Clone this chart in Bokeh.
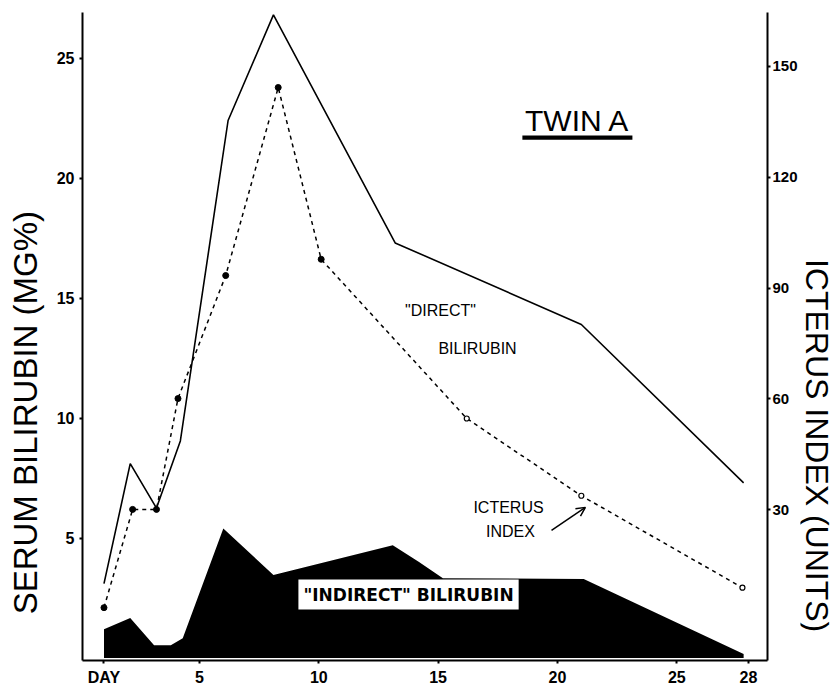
import math
from bokeh.plotting import figure
from bokeh.layouts import row
from bokeh.models import Range1d, LinearAxis, FixedTicker, Label, Arrow, OpenHead, BoxAnnotation
from bokeh.embed import file_html
from bokeh.resources import INLINE

# ---- data ----
days_direct = [1, 2.1, 3.2, 4.2, 6.2, 8.1, 13.2, 21.0, 27.8]
direct_bilirubin = [3.1, 8.1, 6.25, 9.05, 22.4, 26.8, 17.3, 13.9, 7.3]

days_indirect = [1, 2.1, 3.1, 3.8, 4.3, 6.0, 8.1, 13.1, 14.2, 15.2, 21.1, 27.8]
indirect_bilirubin = [1.2, 1.67, 0.54, 0.54, 0.83, 5.4, 3.46, 4.7, 4.0, 3.33, 3.3, 0.17]

days_icterus = [1, 2.2, 3.2, 4.1, 6.1, 8.3, 10.1, 16.2, 21.0, 27.75]
icterus_index = [3.5, 30.1, 30.1, 60.1, 93.4, 144.3, 97.8, 54.7, 33.8, 8.9]

x_ticks = [1, 5, 10, 15, 20, 25, 28]
x_tick_labels = ["DAY", "5", "10", "15", "20", "25", "28"]
left_ticks = [5, 10, 15, 20, 25]
right_ticks = [30, 60, 90, 120, 150]

H = 684

p = figure(frame_width=685, frame_height=648,
           x_range=Range1d(0.1, 28.8), y_range=Range1d(-0.1, 26.9),
           output_backend="svg", toolbar_location=None,
           min_border_left=37, min_border_right=30, min_border_top=12, min_border_bottom=24)
p.outline_line_color = None
p.xgrid.visible = False
p.ygrid.visible = False

p.extra_y_ranges = {"ict": Range1d(-10.8, 164.6)}
p.add_layout(LinearAxis(y_range_name="ict", ticker=FixedTicker(ticks=right_ticks)), "right")

p.xaxis.ticker = FixedTicker(ticks=x_ticks)
p.xaxis.major_label_overrides = {t: l for t, l in zip(x_ticks, x_tick_labels)}
p.yaxis[0].ticker = FixedTicker(ticks=left_ticks)

for ax in p.xaxis + p.yaxis:
    ax.axis_line_width = 2
    ax.axis_line_color = "black"
    ax.major_tick_line_width = 2
    ax.major_tick_in = 0
    ax.major_tick_out = 3
    ax.minor_tick_in = 0
    ax.minor_tick_out = 0
    ax.major_label_text_font = "Liberation Sans"
    ax.major_label_text_font_style = "bold"
    ax.major_label_text_font_size = "16px"
    ax.major_label_text_color = "black"
    ax.major_label_standoff = 5
p.yaxis[1].major_label_standoff = 2
p.yaxis[1].major_label_text_font_size = "15px"

# indirect bilirubin (black area)
p.varea(x=days_indirect, y1=0, y2=indirect_bilirubin, fill_color="black")
# direct bilirubin (solid)
p.line(days_direct, direct_bilirubin, line_color="black", line_width=1.6)
# icterus index (dotted, right axis)
p.line(days_icterus, icterus_index, y_range_name="ict", line_color="black",
       line_width=1.5, line_dash="4 4")
p.scatter(days_icterus[:7], icterus_index[:7], y_range_name="ict", size=6,
          fill_color="black", line_color="black")
p.scatter(days_icterus[7:], icterus_index[7:], y_range_name="ict", size=5,
          fill_color="white", line_color="black", line_width=1.2)

# title
p.add_layout(Label(x=20.84, y=22.4, text="TWIN A", text_align="center", text_baseline="middle",
                   text_font="Liberation Sans", text_font_size="30px", text_color="black"))
p.add_layout(BoxAnnotation(left=18.53, right=23.14, bottom=21.6, top=21.78,
                           fill_color="black", fill_alpha=1, line_color=None))

# annotations
for x, y, t in [(15.1, 14.48, '"DIRECT"'), (16.65, 12.9, "BILIRUBIN"),
                (17.95, 6.28, "ICTERUS"), (18.03, 5.28, "INDEX")]:
    p.add_layout(Label(x=x, y=y, text=t, text_align="center", text_baseline="middle",
                       text_font="Liberation Sans", text_font_size="16px", text_color="black"))

p.add_layout(Arrow(end=OpenHead(size=9, line_width=1.5, line_color="black"),
                   x_start=19.75, y_start=5.32, x_end=21.17, y_end=6.28,
                   line_width=1.5, line_color="black"))

p.add_layout(Label(x=13.76, y=2.65, text='"INDIRECT" BILIRUBIN', text_align="center",
                   text_baseline="middle", text_font="DejaVu Sans", text_font_style="bold",
                   text_font_size="17px", text_color="black",
                   background_fill_color="white", padding=5))


def side_panel(width):
    f = figure(width=width, height=H, x_range=Range1d(0, width), y_range=Range1d(0, H),
               x_axis_location=None, y_axis_location=None, min_border=0,
               output_backend="svg", toolbar_location=None)
    f.outline_line_color = None
    f.xgrid.visible = False
    f.ygrid.visible = False
    return f


left_panel = side_panel(45)
left_panel.add_layout(Label(x=25, y=H - 425, text="SERUM BILIRUBIN (MG%)", angle=math.pi / 2,
                            text_align="center", text_baseline="middle",
                            text_font="Liberation Sans", text_font_size="33px",
                            text_color="black"))

right_panel = side_panel(36)
right_panel.add_layout(Label(x=16, y=H - 460, text="ICTERUS INDEX (UNITS)", angle=-math.pi / 2,
                             text_align="center", text_baseline="middle",
                             text_font="Liberation Sans", text_font_size="32px",
                             text_color="black"))

layout = row(left_panel, p, right_panel)
open("out.html", "w").write(file_html(layout, INLINE))
